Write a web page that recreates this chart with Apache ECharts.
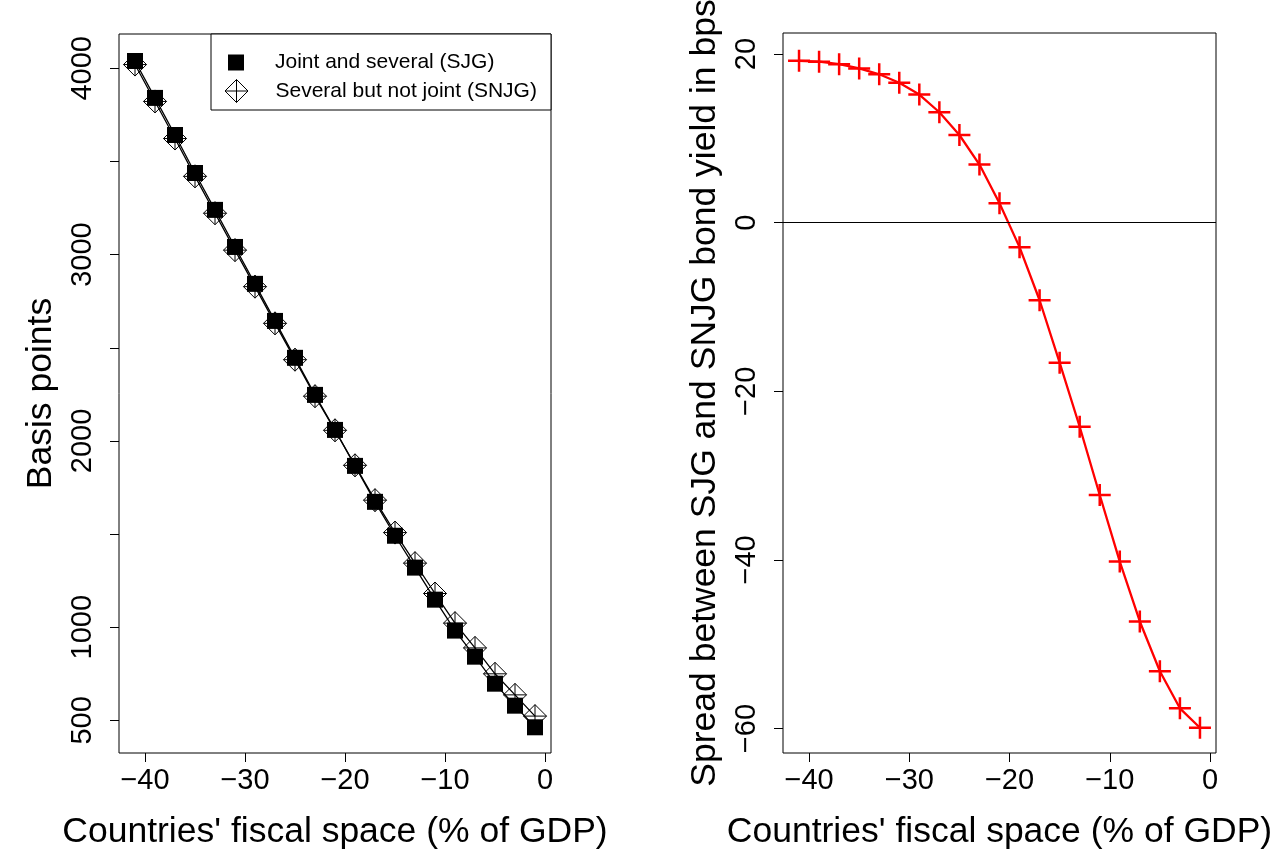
<!DOCTYPE html>
<html><head><meta charset="utf-8">
<script src="https://cdn.jsdelivr.net/npm/echarts@6/dist/echarts.min.js"></script>
<style>html,body{margin:0;padding:0;background:#fff}#c{width:1285px;height:853px}</style>
</head><body><div id="c"></div>
<script>
// ---- data ----
const fiscalSpace = [-41,-39,-37,-35,-33,-31,-29,-27,-25,-23,-21,-19,-17,-15,-13,-11,-9,-7,-5,-3,-1];
const sjg  = [4039,3841,3642,3438,3240,3041,2843,2644,2446,2247,2059,1866,1673,1491,1320,1148,982,842,697,579,463];
const snjg = [4020,3822,3623,3420,3222,3024,2828,2631,2436,2240,2057,1869,1682,1508,1344,1181,1022,889,750,637,523];
const spread = [19.2,19.1,18.8,18.3,17.6,16.6,15.2,13.1,10.4,6.9,2.3,-2.9,-9.2,-16.6,-24.2,-32.3,-40.2,-47.3,-53.2,-57.6,-59.9];
const xTicks = [-40,-30,-20,-10,0];
const leftYTicks = [500,1000,1500,2000,2500,3000,3500,4000];
const leftYLabels = [500,1000,2000,3000,4000];
const rightYTicks = [-60,-40,-20,0,20];
const seriesNames = ['Joint and several (SJG)','Several but not joint (SNJG)'];
const xTitle = "Countries' fiscal space (% of GDP)";
const leftYTitle = 'Basis points';
const rightYTitle = 'Spread between SJG and SNJG bond yield in bps';

const FONT = "'Liberation Sans', Arial, Helvetica, sans-serif";
const DIAMOND_PLUS = 'path://M0,-10L10,0L0,10L-10,0ZM0,-10L0,10M-10,0L10,0';
const CROSS = 'path://M-10,0L10,0M0,-10L0,10';
const minus = v => String(v).replace('-', '\u2212');

const pairs = arr => fiscalSpace.map((x, i) => [x, arr[i]]);

const chart = echarts.init(document.getElementById('c'), null, {renderer: 'canvas'});

function xAxis(gridIndex) {
  return {
    type: 'value', gridIndex, min: -42.6, max: 0.6,
    name: xTitle, nameLocation: 'middle', nameGap: 61,
    nameTextStyle: {fontFamily: FONT, fontSize: 35.5, color: '#000'},
    axisLine: {show: false, onZero: false},
    splitLine: {show: false},
    axisTick: {show: true, length: 9, lineStyle: {color: '#000', width: 1}, customValues: xTicks},
    axisLabel: {fontFamily: FONT, fontSize: 29, color: '#000', margin: 13, customValues: xTicks, formatter: minus}
  };
}

function yAxis(gridIndex, min, max, title, ticks, labels) {
  return {
    type: 'value', gridIndex, min, max,
    name: title, nameLocation: 'middle', nameGap: 60,
    nameTextStyle: {fontFamily: FONT, fontSize: 35.5, color: '#000'},
    axisLine: {show: false, onZero: false}, splitLine: {show: false},
    axisTick: {show: true, length: 9, lineStyle: {color: '#000', width: 1}, customValues: ticks},
    axisLabel: {fontFamily: FONT, fontSize: 29, color: '#000', margin: 22, rotate: 90, customValues: labels, formatter: minus}
  };
}

const option = {
  animation: false,
  backgroundColor: '#fff',
  grid: [
    {left: 119, top: 34, width: 432, height: 719, show: true, borderColor: '#000', borderWidth: 1, backgroundColor: 'transparent', containLabel: false, outerBoundsMode: 'none'},
    {left: 783, top: 33, width: 433, height: 720, show: true, borderColor: '#000', borderWidth: 1, backgroundColor: 'transparent', containLabel: false, outerBoundsMode: 'none'}
  ],
  xAxis: [xAxis(0), xAxis(1)],
  yAxis: [
    yAxis(0, 325, 4184, leftYTitle, leftYTicks, leftYLabels),
    yAxis(1, -62.9, 22.5, rightYTitle, rightYTicks, rightYTicks)
  ],
  legend: [
    {
      data: [{name: seriesNames[0], icon: 'rect', itemStyle: {color: '#000', borderWidth: 0}}],
      left: 228, top: 52, padding: 0, itemWidth: 16, itemHeight: 16,
      selectedMode: false,
      textStyle: {fontFamily: FONT, fontSize: 21, color: '#000', padding: [0, 0, 0, 26]}
    },
    {
      data: [{name: seriesNames[1], icon: DIAMOND_PLUS, itemStyle: {color: 'rgba(0,0,0,0)', borderColor: '#000', borderWidth: 1}}],
      left: 224.5, top: 79, padding: 0, itemWidth: 23, itemHeight: 23,
      selectedMode: false,
      textStyle: {fontFamily: FONT, fontSize: 21, color: '#000', padding: [0, 0, 0, 22.5]}
    }
  ],
  graphic: [
    {type: 'rect', z: 0, shape: {x: 211, y: 34, width: 340, height: 76}, style: {fill: '#fff', stroke: '#000', lineWidth: 1}}
  ],
  series: [
    {
      name: seriesNames[1], type: 'line', xAxisIndex: 0, yAxisIndex: 0, z: 2,
      data: pairs(snjg),
      symbol: DIAMOND_PLUS, symbolSize: 23, showAllSymbol: true,
      lineStyle: {color: '#000', width: 1.3},
      itemStyle: {color: 'rgba(0,0,0,0)', borderColor: '#000', borderWidth: 1}
    },
    {
      name: seriesNames[0], type: 'line', xAxisIndex: 0, yAxisIndex: 0, z: 3,
      data: pairs(sjg),
      symbol: 'rect', symbolSize: 16, showAllSymbol: true,
      lineStyle: {color: '#000', width: 1.3},
      itemStyle: {color: '#000'}
    },
    {
      name: 'Spread', type: 'line', xAxisIndex: 1, yAxisIndex: 1, z: 3,
      data: pairs(spread),
      symbol: CROSS, symbolSize: 22, showAllSymbol: true,
      lineStyle: {color: '#ff0000', width: 2.3},
      itemStyle: {color: 'rgba(0,0,0,0)', borderColor: '#ff0000', borderWidth: 2.5},
      markLine: {
        silent: true, symbol: ['none', 'none'], label: {show: false},
        lineStyle: {color: '#000', width: 1, type: 'solid'},
        emphasis: {disabled: true},
        data: [{yAxis: 0}]
      }
    }
  ]
};
chart.setOption(option);
</script>
</body></html>
